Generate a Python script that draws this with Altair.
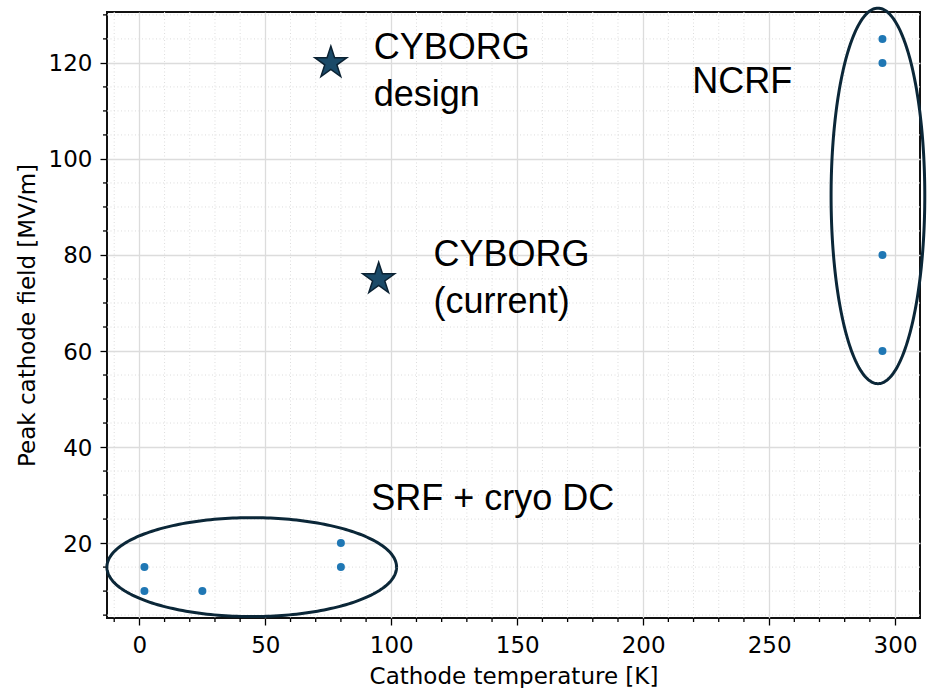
import altair as alt
import numpy as np
import pandas as pd

# Cathode operating points: temperature [K] and peak cathode field [MV/m]
ncrf_temp = [295, 295, 295, 295]
ncrf_field = [125, 120, 80, 60]
srf_temp = [2, 2, 25, 80, 80]
srf_field = [15, 10, 10, 20, 15]

# CYBORG cathode: design goal and current state
cyborg_temp = [76, 95]
cyborg_field = [120, 75]

# Ellipses grouping the two families of sources (centre and semi-axes in data units)
ellipse_names = ["SRF + cryo DC", "NCRF"]
ellipse_cx = [44.6, 293.2]
ellipse_cy = [15.0, 92.3]
ellipse_rx = [57.5, 18.6]
ellipse_ry = [10.3, 39.1]

# Annotation labels (left edge / first baseline in data units)
label_text = ["CYBORG\ndesign", "CYBORG\n(current)", "NCRF", "SRF + cryo DC"]
label_x = [93.0, 116.8, 219.5, 92.0]
label_y = [120.9, 77.65, 113.8, 26.96]

x_domain = [-12.86, 309.9]
y_domain = [4.4, 130.6]
x_major = list(range(0, 301, 50))
y_major = list(range(20, 121, 20))
x_minor = [v for v in range(-10, 301, 10) if v % 50 != 0]
y_minor = [v for v in range(5, 131, 5) if v % 20 != 0]

W, H = 813, 606

points = pd.DataFrame({
    "temp": ncrf_temp + srf_temp,
    "field": ncrf_field + srf_field,
})
stars = pd.DataFrame({"temp": cyborg_temp, "field": cyborg_field})
labels = pd.DataFrame({"text": label_text, "temp": label_x, "field": label_y})

theta = np.linspace(0, 2 * np.pi, 241)
rows = []
for name, cx, cy, rx, ry in zip(ellipse_names, ellipse_cx, ellipse_cy, ellipse_rx, ellipse_ry):
    for i, t in enumerate(theta):
        rows.append({"ring": name, "step": i,
                     "temp": float(cx + rx * np.cos(t)), "field": float(cy + ry * np.sin(t))})
ellipses = pd.DataFrame(rows)

xminor_df = pd.DataFrame({"temp": x_minor})
yminor_df = pd.DataFrame({"field": y_minor})

# five-pointed star symbol in the unit box used by Vega custom shapes
star_angles = np.deg2rad(-90 + 36 * np.arange(10))
star_radii = np.where(np.arange(10) % 2 == 0, 1.0, 0.382)
star_path = "M" + "L".join(
    f"{r * np.cos(a):.4f},{r * np.sin(a):.4f}" for r, a in zip(star_radii, star_angles)
) + "Z"

xscale = alt.Scale(domain=x_domain, nice=False, zero=False)
yscale = alt.Scale(domain=y_domain, nice=False, zero=False)

x_axis = alt.Axis(
    values=x_major, title="Cathode temperature [K]", tickSize=7,
    labelPadding=9, labelFlush=False, labelOverlap=False,
    titleBaseline="alphabetic", titleY=65.6,
)
y_axis = alt.Axis(
    values=y_major, title="Peak cathode field [MV/m]", tickSize=7,
    labelPadding=8, labelOffset=1, labelFlush=False, labelOverlap=False,
    titleBaseline="alphabetic", titleX=-72.3, titleY=H / 2,
)

X = alt.X("temp:Q", scale=xscale, axis=x_axis)
Y = alt.Y("field:Q", scale=yscale, axis=y_axis)

minor_grid_style = dict(color="#dcdcdc", strokeWidth=1, strokeDash=[1, 2.5])

# dotted minor grid
xgrid_minor = alt.Chart(xminor_df).mark_rule(**minor_grid_style).encode(x=X)
ygrid_minor = alt.Chart(yminor_df).mark_rule(**minor_grid_style).encode(y=Y)

# minor ticks outside the frame
xtick_minor = alt.Chart(xminor_df).mark_rule(clip=False, color="black", strokeWidth=1.3).encode(
    x=X, y=alt.value(H), y2=alt.value(H + 4)
)
ytick_minor = alt.Chart(yminor_df).mark_rule(clip=False, color="black", strokeWidth=1.3).encode(
    y=Y, x=alt.value(0), x2=alt.value(-4)
)

dots = alt.Chart(points).mark_circle(size=64, color="#1f77b4", opacity=1).encode(x=X, y=Y)

texts = alt.Chart(labels).mark_text(
    align="left", baseline="alphabetic", font="Liberation Sans", fontSize=36,
    lineHeight=47, lineBreak="\n", color="black",
).encode(x=X, y=Y, text="text:N")

star_marks = alt.Chart(stars).mark_point(
    shape=star_path, filled=True, size=1130, fill="#1b4a68", stroke="#0b2233",
    strokeWidth=1.5, opacity=1,
).encode(x=X, y=Y)

rings = alt.Chart(ellipses).mark_line(clip=False, color="#0b2738", strokeWidth=3).encode(
    x=X, y=Y, detail="ring:N", order="step:Q",
)

chart = alt.layer(
    xgrid_minor, ygrid_minor, xtick_minor, ytick_minor, dots, texts, rings, star_marks
).properties(
    width=W,
    height=H,
    padding={"left": 107, "top": 12, "right": 7, "bottom": 70},
    autosize=alt.AutoSizeParams(type="none"),
    background="white",
).configure_view(
    stroke="#111111", strokeWidth=2,
).configure_axis(
    domain=False,
    grid=True,
    gridColor="#dcdcdc",
    gridWidth=1.3,
    tickColor="black",
    tickWidth=1.3,
    labelFont="DejaVu Sans",
    labelFontSize=23,
    labelColor="black",
    titleFont="DejaVu Sans",
    titleFontSize=23,
    titleFontWeight="normal",
    titleColor="black",
)

chart.save("out.html", embed_options={"renderer": "svg", "actions": False})
